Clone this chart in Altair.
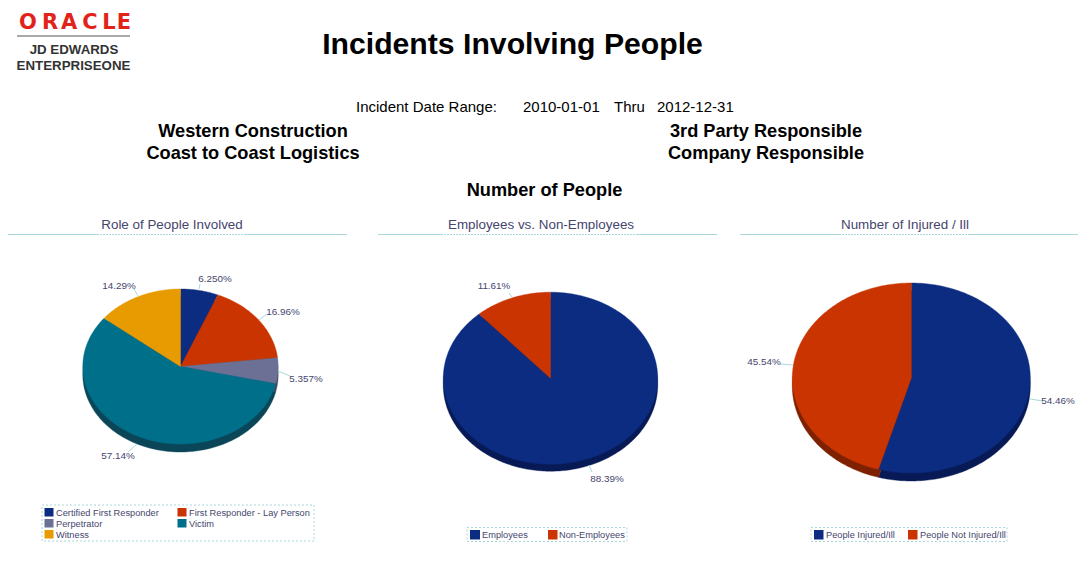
import math
import altair as alt
import pandas as pd

NAVY, RED, SLATE, TEAL, AMBER = "#0B2C80", "#C93400", "#6B7094", "#006F8A", "#E89B00"
DARK = {NAVY: "#081A55", RED: "#7E2100", SLATE: "#444860", TEAL: "#0A4658", AMBER: "#90600A"}
INK = "#45456E"
LINE = "#A9D8DC"

role_names = ["Certified First Responder", "First Responder - Lay Person", "Perpetrator", "Victim", "Witness"]
role_values = [6.250, 16.96, 5.357, 57.14, 14.29]
role_labels = ["6.250%", "16.96%", "5.357%", "57.14%", "14.29%"]
emp_names = ["Employees", "Non-Employees"]
emp_values = [88.39, 11.61]
emp_labels = ["88.39%", "11.61%"]
inj_names = ["People Injured/Ill", "People Not Injured/Ill"]
inj_values = [54.46, 45.54]
inj_labels = ["54.46%", "45.54%"]

pies = [
    dict(cx=180.5, cy=366.5, rx=97.7, ry=77.5, depth=8, vals=role_values, cols=[NAVY, RED, SLATE, TEAL, AMBER]),
    dict(cx=550.5, cy=378.2, rx=107.2, ry=86, depth=7, vals=emp_values, cols=[NAVY, RED]),
    dict(cx=911.3, cy=378, rx=119, ry=95, depth=8, vals=inj_values, cols=[NAVY, RED]),
]

X = alt.Scale(domain=[8, 1084], nice=False, zero=False)
Y = alt.Scale(domain=[556, 8], nice=False, zero=False)


def xe(f="x"):
    return alt.X(f"{f}:Q", scale=X, axis=None)


def ye(f="y"):
    return alt.Y(f"{f}:Q", scale=Y, axis=None)


def wedge_rows():
    rows = []
    for dark in (True, False):
        for p_i, p in enumerate(pies):
            start = 0.0
            for s_i, (v, c) in enumerate(zip(p["vals"], p["cols"])):
                end = start + v
                off = p["depth"] if dark else 0
                key = f"{'d' if dark else 'f'}{p_i}-{s_i}"
                col = DARK[c] if dark else c
                pts = [(p["cx"], p["cy"] + off)]
                n = max(2, int(v * 3.6))
                for k in range(n + 1):
                    a = math.radians((start + (end - start) * k / n) * 3.6)
                    pts.append((p["cx"] + p["rx"] * math.sin(a), p["cy"] + off - p["ry"] * math.cos(a)))
                pts.append((p["cx"], p["cy"] + off))
                for i, (x, y) in enumerate(pts):
                    rows.append(dict(key=key, i=i, x=x, y=y, c=col, z=0 if dark else 1))
                start = end
    return pd.DataFrame(rows)


wd = wedge_rows()


def wedge_layer(z):
    return alt.Chart(wd[wd.z == z]).mark_line(filled=True, interpolate="linear", strokeWidth=0.4).encode(
        x=xe(), y=ye(), detail="key:N", order="i:Q",
        fill=alt.Fill("c:N", scale=None), stroke=alt.Stroke("c:N", scale=None),
    )


def text_layer(rows, size, color="#000000", weight="normal", font="Liberation Sans", align="center"):
    df = pd.DataFrame(rows, columns=["t", "x", "y"])
    return alt.Chart(df).mark_text(fontSize=size, font=font, fontWeight=weight, color=color,
                                   align=align, baseline="middle").encode(x=xe(), y=ye(), text="t:N")


def rule_layer(rows, color, width=1, dash=None):
    df = pd.DataFrame(rows, columns=["x", "x2", "y", "y2"])
    kw = dict(color=color, strokeWidth=width)
    if dash:
        kw["strokeDash"] = dash
    return alt.Chart(df).mark_rule(**kw).encode(x=xe(), x2="x2:Q", y=ye(), y2="y2:Q")


leaders = [
    (200, 199, 284, 289), (267, 259, 314, 320), (290, 278, 376, 371), (128, 137, 452, 444), (134, 138, 289, 296),
    (509, 512, 293, 297), (592, 589, 472, 465), (780, 793, 364, 365), (1043, 1030, 401, 399),
]
pct_rows = [
    (role_labels[0], 215, 278.5), (role_labels[1], 283, 311.5), (role_labels[2], 306, 379),
    (role_labels[3], 118, 455.5), (role_labels[4], 119, 285.5),
    (emp_labels[0], 607, 478.5), (emp_labels[1], 494, 285.5),
    (inj_labels[0], 1058, 401), (inj_labels[1], 764, 362),
]

legend_sw = pd.DataFrame([
    (44.5, 53.5, 508, 516.5, NAVY), (177.5, 186.5, 508, 516.5, RED),
    (44.5, 53.5, 519, 527.5, SLATE), (177.5, 186.5, 519, 527.5, TEAL),
    (44.5, 53.5, 530, 538.5, AMBER),
    (470, 480, 530, 539.5, NAVY), (548, 557.5, 530, 539.5, RED),
    (814, 823.5, 530, 539.5, NAVY), (908, 917.5, 530, 539.5, RED),
], columns=["x", "x2", "y", "y2", "c"])
legend_boxes = pd.DataFrame([
    (42, 314, 505, 541), (467, 627, 527.5, 541.5), (811, 1007, 527.5, 541.5),
], columns=["x", "x2", "y", "y2"])
legend_text = [
    (role_names[0], 56, 512.5), (role_names[1], 189, 512.5), (role_names[2], 56, 523.5),
    (role_names[3], 189, 523.5), (role_names[4], 56, 534.5),
    (emp_names[0], 482, 535), (emp_names[1], 559, 535),
    (inj_names[0], 826, 535), (inj_names[1], 920, 535),
]

layers = [
    wedge_layer(0), wedge_layer(1),
    rule_layer(leaders, LINE),
    text_layer(pct_rows, 9.9, INK),
    # section rules
    rule_layer([(8, 347, 234.5, 234.5), (378, 717, 234.5, 234.5), (740, 1078, 234.5, 234.5)], LINE),
    rule_layer([(99, 245, 234.5, 234.5), (443, 637, 234.5, 234.5), (841, 970, 234.5, 234.5)], "#FFFFFF", dash=[1, 2]),
    text_layer([("Role of People Involved", 172, 224.5), ("Employees vs. Non-Employees", 541, 224.5),
                ("Number of Injured / Ill", 905, 224.5)], 13.4, INK),
    # legends
    alt.Chart(legend_boxes).mark_rect(fill="#FFFFFF", stroke=LINE, strokeDash=[2, 2], strokeWidth=1).encode(
        x=xe(), x2="x2:Q", y=ye(), y2="y2:Q"),
    alt.Chart(legend_sw).mark_rect().encode(x=xe(), x2="x2:Q", y=ye(), y2="y2:Q", fill=alt.Fill("c:N", scale=None)),
    text_layer(legend_text, 9.25, INK, align="left"),
    # headings
    text_layer([("Incidents Involving People", 512.5, 44.5)], 30.2, weight="bold"),
    text_layer([("Incident Date Range:", 356, 106.5), ("2010-01-01", 523, 106.5), ("Thru", 614, 106.5),
                ("2012-12-31", 657, 106.5)], 15, align="left"),
    text_layer([("Western Construction", 253, 132), ("Coast to Coast Logistics", 253, 154),
                ("3rd Party Responsible", 766, 132), ("Company Responsible", 766, 154)], 18.2, weight="bold"),
    text_layer([("Number of People", 544.5, 191)], 18.2, weight="bold"),
    # logo
    text_layer([("O", 28, 22.5), ("R", 50, 22.5), ("A", 69, 22.5), ("C", 90, 22.5), ("L", 109, 22.5), ("E", 124, 22.5)],
               21, "#E2231A", font="DejaVu Sans", weight="bold"),
    rule_layer([(17, 130, 36, 36)], "#555555"),
    text_layer([("JD EDWARDS", 74, 50), ("ENTERPRISEONE", 73.5, 66)], 13.3, "#333333", weight="bold"),
]

chart = alt.layer(*layers).properties(
    width=1076, height=548, padding=0, autosize=alt.AutoSizeParams(type="none"), background="#FFFFFF",
).configure_view(stroke=None)

chart.save("out.html", embed_options={"renderer": "svg", "actions": False})
